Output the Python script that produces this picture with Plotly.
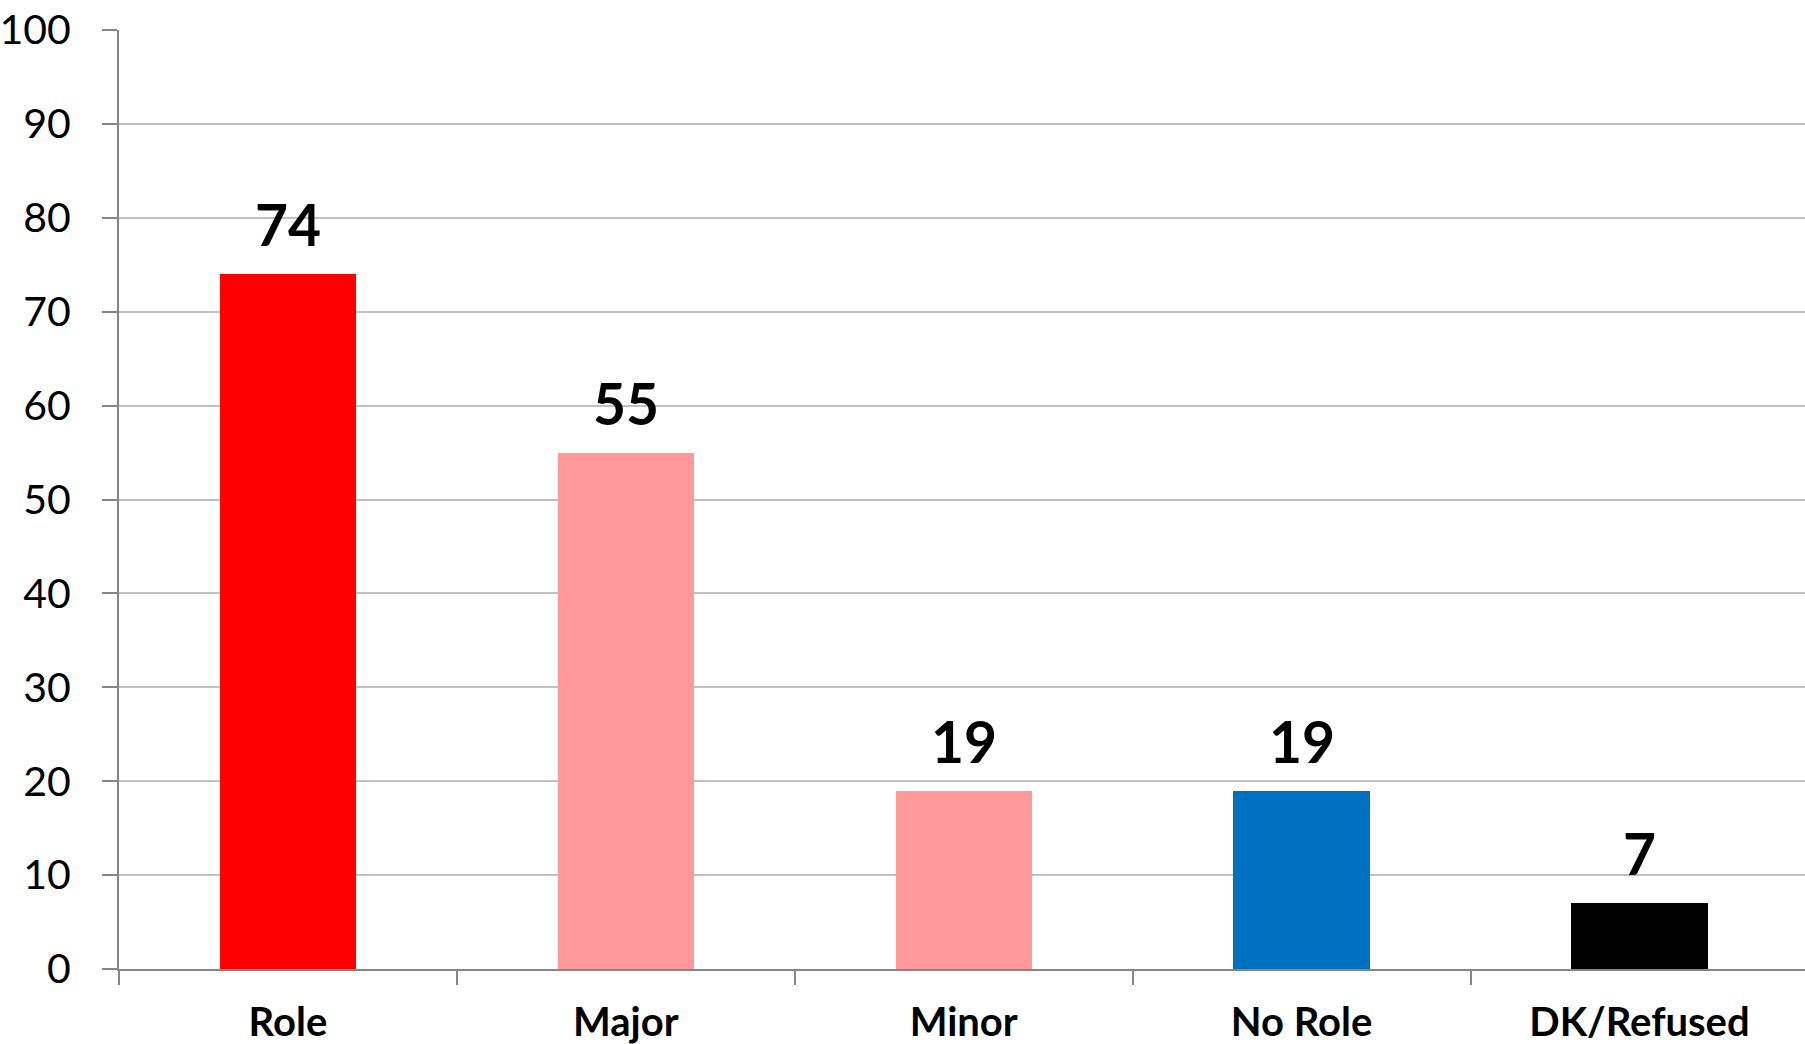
import plotly.graph_objects as go

categories = ["Role", "Major", "Minor", "No Role", "DK/Refused"]
values = [74, 55, 19, 19, 7]
bar_colors = ["#FF0000", "#FF9999", "#FF9999", "#0070C0", "#000000"]
y_ticks = [0, 10, 20, 30, 40, 50, 60, 70, 80, 90, 100]

FONT = "Lato"

fig = go.Figure()
fig.add_trace(go.Bar(
    x=categories,
    y=values,
    marker=dict(color=bar_colors, line=dict(width=0)),
    width=0.403,
    hoverinfo="skip",
))

for c, v in zip(categories, values):
    fig.add_annotation(
        x=c, y=v, text=f"<b>{v}</b>", showarrow=False,
        yanchor="bottom", yshift=14,
        font=dict(family=FONT, size=57, color="#000000"),
    )

fig.update_layout(
    width=1805, height=1044,
    margin=dict(l=119, r=0, t=30, b=75),
    paper_bgcolor="white", plot_bgcolor="white",
    showlegend=False,
    bargap=0,
)
fig.update_xaxes(
    type="category",
    range=[-0.5, 4.49],
    automargin=False,
    showline=True, linecolor="#868686", linewidth=2,
    ticks="outside", ticklen=14, tickwidth=2, tickcolor="#868686",
    tickson="boundaries",
    showgrid=False,
    tickfont=dict(family=FONT, size=40, color="#000000", weight="bold"),
    ticklabelstandoff=17,
    ticklabeloverflow="allow",
)
fig.update_yaxes(
    range=[0, 100],
    tickvals=y_ticks,
    automargin=False,
    showline=True, linecolor="#868686", linewidth=2,
    ticks="outside", ticklen=15, tickwidth=2, tickcolor="#868686",
    showgrid=True, gridcolor="#C0C0C0", gridwidth=2,
    zeroline=False,
    tickfont=dict(family=FONT, size=41, color="#000000"),
    ticklabelstandoff=23,
    ticklabeloverflow="allow",
)

fig.write_html(
    "out.html",
    config={"displayModeBar": False},
    post_script="document.body.style.margin='0';",
)
